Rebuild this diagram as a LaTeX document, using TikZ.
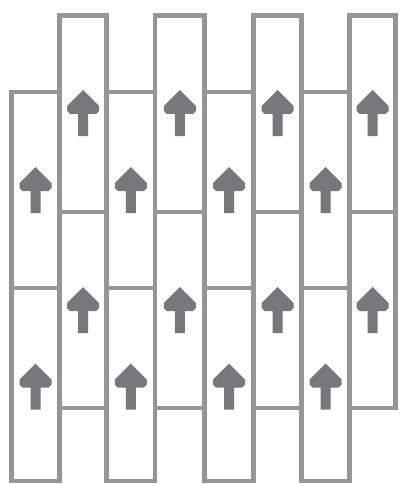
\documentclass[tikz,border=0pt]{standalone}
\definecolor{brickline}{RGB}{150,150,154}
\definecolor{arrowgray}{RGB}{120,120,124}
\tikzset{
  brick/.style={draw=brickline, line width=4.2pt, fill=white},
  uparrow/.pic={
    \fill[arrowgray] (0,-23) -- (16,-7) -- (16,-2) -- (13,1) -- (5,1) -- (5,23) -- (-5,23) -- (-5,1) -- (-13,1) -- (-16,-2) -- (-16,-7) -- cycle;
  }
}
\begin{document}
\begin{tikzpicture}[x=1pt,y=-1pt]
\useasboundingbox (0,0) rectangle (399,484);
\fill[white] (0,0) rectangle (399,484);
% column edges
\def\edges{{11.5,59.5,106.5,155,204.5,253.5,301.5,349.5,395.5}}
\foreach \i in {0,...,7}{
  \pgfmathsetmacro{\xl}{\edges[\i]}
  \pgfmathsetmacro{\xr}{\edges[\i+1]}
  \pgfmathsetmacro{\xc}{(\xl+\xr)/2}
  \pgfmathtruncatemacro{\odd}{mod(\i,2)}
  \ifnum\odd=1
    \draw[brick] (\xl,15.5) rectangle (\xr,212);
    \draw[brick] (\xl,212) rectangle (\xr,408);
    \pic at (\xc,113) {uparrow};
    \pic at (\xc,310) {uparrow};
  \else
    \draw[brick] (\xl,92) rectangle (\xr,288);
    \draw[brick] (\xl,288) rectangle (\xr,481);
    \pic at (\xc,190) {uparrow};
    \pic at (\xc,386.5) {uparrow};
  \fi
}
\end{tikzpicture}
\end{document}
